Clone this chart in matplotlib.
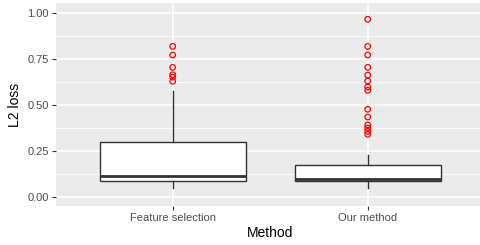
import matplotlib
matplotlib.use("Agg")
import matplotlib.pyplot as plt
import numpy as np

# boxplot summary
methods = ["Feature selection", "Our method"]
q1 = [0.085, 0.083]
med = [0.114, 0.097]
q3 = [0.297, 0.174]
whislo = [0.046, 0.046]
whishi = [0.575, 0.224]
outliers = [
    [0.817, 0.770, 0.703, 0.663, 0.650, 0.627],
    [0.964, 0.817, 0.770, 0.703, 0.661, 0.629, 0.596, 0.578,
     0.475, 0.433, 0.390, 0.373, 0.355, 0.339],
]

plt.rcParams['font.family'] = ['Liberation Sans', 'DejaVu Sans']

W, H = 481, 245
fig = plt.figure(figsize=(W / 100, H / 100), dpi=100)
ax = fig.add_axes([55.7 / W, 1 - 205.9 / H, 429 / W, (205.9 - 3.5) / H])
ax.set_facecolor('#EBEBEB')

stats = []
for i in range(len(methods)):
    stats.append(dict(q1=q1[i], med=med[i], q3=q3[i], whislo=whislo[i],
                      whishi=whishi[i], fliers=[], label=methods[i]))

pos = np.arange(1, len(methods) + 1)
ax.bxp(stats, positions=pos, widths=0.75, patch_artist=True, showfliers=False,
       showcaps=False,
       boxprops=dict(facecolor='white', edgecolor='#333333', linewidth=1.0),
       medianprops=dict(color='#333333', linewidth=2.0),
       whiskerprops=dict(color='#333333', linewidth=1.0), zorder=3)

for i, pts in enumerate(outliers):
    ax.scatter(np.full(len(pts), pos[i]), pts, s=16, facecolors='none',
               edgecolors='red', linewidths=0.9, zorder=4)

ax.set_xlim(0.4, 2.6)
ax.set_ylim(-0.05, 1.05)
ax.set_yticks([0, 0.25, 0.5, 0.75, 1.0])
ax.set_yticklabels(['0.00', '0.25', '0.50', '0.75', '1.00'])
ax.set_yticks([0.125, 0.375, 0.625, 0.875], minor=True)
ax.set_xticks(pos)
ax.set_xticklabels(methods)

ax.grid(True, which='major', color='white', linewidth=1.1, zorder=0)
ax.grid(True, which='minor', axis='y', color='white', linewidth=0.55, zorder=0)
ax.set_axisbelow(True)
for s in ax.spines.values():
    s.set_visible(False)

ax.tick_params(which='major', length=3, width=0.8, color='#333333',
               labelsize=8, labelcolor='#4D4D4D', pad=2)
ax.tick_params(which='minor', length=0)

ax.set_xlabel('Method', fontsize=10, labelpad=2)
ax.set_ylabel('L2 loss', fontsize=10, labelpad=4)

fig.savefig('out.png', dpi=100)
